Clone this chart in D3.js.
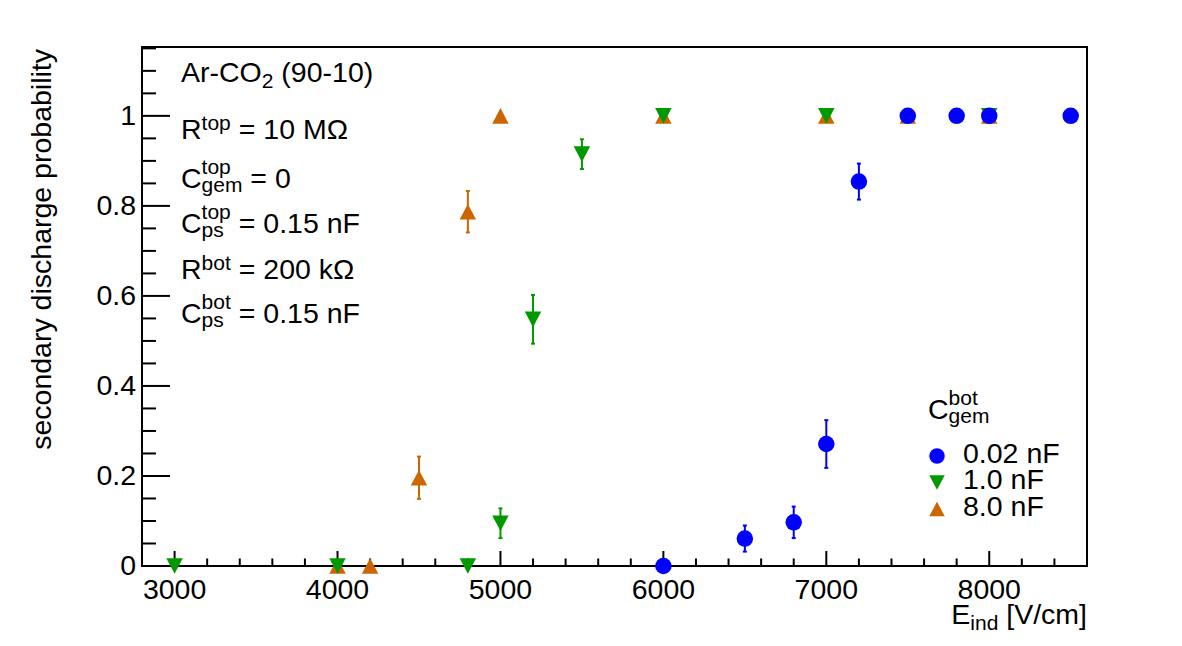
<!DOCTYPE html>
<html>
<head>
<meta charset="utf-8">
<script src="https://cdn.jsdelivr.net/npm/d3@7"></script>
<style>
    body { margin: 0; background: #fff; }
    svg text { font-family: "Liberation Sans", Arial, Helvetica, sans-serif; fill: #000; }
</style>
</head>
<body>
<svg id="chart" width="1182" height="646"></svg>
<script>
// C_gem^bot = 0.02 nF
const FIELD_002 = [6000, 6500, 6800, 7000, 7200, 7500, 7800, 8000, 8500];
const PROB_002 = [0, 0.061, 0.097, 0.271, 0.854, 1, 1, 1, 1];
const ERR_002 = [0, 0.029, 0.035, 0.053, 0.040, 0, 0, 0, 0];
// C_gem^bot = 1.0 nF
const FIELD_10 = [3000, 4000, 4800, 5000, 5200, 5500, 6000, 7000, 8000];
const PROB_10 = [0, 0, 0, 0.095, 0.548, 0.915, 1, 1, 1];
const ERR_10 = [0, 0, 0, 0.033, 0.054, 0.033, 0, 0, 0];
// C_gem^bot = 8.0 nF
const FIELD_80 = [4000, 4200, 4500, 4800, 5000, 6000, 7000, 7500, 8000];
const PROB_80 = [0, 0, 0.196, 0.787, 1, 1, 1, 1, 1];
const ERR_80 = [0, 0, 0.047, 0.046, 0, 0, 0, 0, 0];

const X_TICKS = [3000, 4000, 5000, 6000, 7000, 8000];
const Y_TICKS = [0, 0.2, 0.4, 0.6, 0.8, 1];
const SERIES_LABELS = ["0.02 nF", "1.0 nF", "8.0 nF"];

const W = 1182, H = 646;
const M = {left: 142, right: 95, top: 47, bottom: 80};
const FONT = 28.5;
const SUB = 21;

const svg = d3.select("#chart");

const x = d3.scaleLinear().domain([2800, 8600]).range([M.left, W - M.right]);
const y = d3.scaleLinear().domain([0, 1.153]).range([H - M.bottom, M.top]);

const tri = (w, h, up) => up
    ? `M0,${-h / 2}L${w / 2},${h / 2}L${-w / 2},${h / 2}Z`
    : `M0,${h / 2}L${w / 2},${-h / 2}L${-w / 2},${-h / 2}Z`;

const series = [
    {label: SERIES_LABELS[0], xs: FIELD_002, ys: PROB_002, es: ERR_002, color: "#0000ff",
        shape: (s) => d3.symbol(d3.symbolCircle, Math.PI * s * s / 4)()},
    {label: SERIES_LABELS[1], xs: FIELD_10, ys: PROB_10, es: ERR_10, color: "#009900",
        shape: (s) => tri(s, s * 0.95, false)},
    {label: SERIES_LABELS[2], xs: FIELD_80, ys: PROB_80, es: ERR_80, color: "#cc6600",
        shape: (s) => tri(s, s * 0.95, true)},
];

// ==================== Axes =====================
const xMinor = d3.range(2800, 8601, 200).filter(v => v % 1000 !== 0 && v > 2800 && v < 8600);
const yMinor = d3.range(1, 24).map(i => +(i * 0.05).toFixed(2)).filter((v, i) => (i + 1) % 4 !== 0);

function styleAxis(g) {
    g.select(".domain").remove();
    g.selectAll("line").attr("stroke", "#000").attr("stroke-width", 2);
    g.selectAll("text").style("font-size", `${FONT}px`).attr("fill", "#000");
}

svg.append("g")
    .attr("transform", `translate(0,${H - M.bottom})`)
    .call(d3.axisBottom(x).tickValues(xMinor).tickSize(-7.5).tickFormat("").offset(0))
    .call(styleAxis);
svg.append("g")
    .attr("transform", `translate(0,${H - M.bottom})`)
    .call(d3.axisBottom(x).tickValues(X_TICKS).tickSize(-15).tickPadding(13)
        .tickFormat(d3.format("d")).offset(0))
    .call(styleAxis);

svg.append("g")
    .attr("transform", `translate(${M.left},0)`)
    .call(d3.axisLeft(y).tickValues(yMinor).tickSize(-14).tickFormat("").offset(0))
    .call(styleAxis);
svg.append("g")
    .attr("transform", `translate(${M.left},0)`)
    .call(d3.axisLeft(y).tickValues(Y_TICKS).tickSize(-28).tickPadding(6)
        .tickFormat(d3.format("~g")).offset(0))
    .call(styleAxis);

svg.append("rect")
    .attr("x", M.left).attr("y", M.top)
    .attr("width", W - M.left - M.right).attr("height", H - M.top - M.bottom)
    .attr("fill", "none").attr("stroke", "#000").attr("stroke-width", 2);

// axis titles
svg.append("text")
    .attr("transform", `translate(51,${M.top + 2}) rotate(-90)`)
    .attr("text-anchor", "end")
    .style("font-size", `${FONT}px`)
    .text("secondary discharge probability");

const xt = svg.append("text")
    .attr("x", W - M.right).attr("y", 624)
    .attr("text-anchor", "end")
    .style("font-size", `${FONT}px`);
xt.append("tspan").text("E");
xt.append("tspan").attr("dy", 6).style("font-size", `${SUB}px`).text("ind");
xt.append("tspan").attr("dy", -6).text(" [V/cm]");

// ==================== Data =====================
// drawn 8.0 nF first so that 1.0 nF and 0.02 nF sit on top
[...series].reverse().forEach(s => {
    const pts = s.xs.map((v, i) => ({x: v, y: s.ys[i], e: s.es[i]}));
    const g = svg.append("g");
    const withErr = pts.filter(d => d.e > 0);
    g.selectAll(".err").data(withErr).enter().append("line")
        .attr("x1", d => x(d.x)).attr("x2", d => x(d.x))
        .attr("y1", d => y(d.y - d.e)).attr("y2", d => y(d.y + d.e))
        .attr("stroke", s.color).attr("stroke-width", 2);
    [-1, 1].forEach(sign => {
        g.selectAll(".cap" + sign).data(withErr).enter().append("line")
            .attr("x1", d => x(d.x) - 2).attr("x2", d => x(d.x) + 2)
            .attr("y1", d => y(d.y + sign * d.e)).attr("y2", d => y(d.y + sign * d.e))
            .attr("stroke", s.color).attr("stroke-width", 2);
    });
    g.selectAll(".pt").data(pts).enter().append("path")
        .attr("transform", d => `translate(${x(d.x)},${y(d.y)})`)
        .attr("d", s.shape(16.5))
        .attr("fill", s.color);
});

// ==================== Labels with sub/superscripts =====================
// one <text> per line, sub/superscripts as positioned tspans
function rich(parent, x0, y0, parts) {
    const t = parent.append("text").attr("x", x0).attr("y", y0)
        .attr("xml:space", "preserve").style("font-size", `${FONT}px`);
    let cx = x0;
    parts.forEach(p => {
        const b = t.append("tspan").attr("x", cx).attr("y", y0).text(p.b);
        cx += b.node().getComputedTextLength();
        let w = 0;
        const both = p.sup && p.sub;
        if (p.sup) {
            const s = t.append("tspan").attr("x", cx).attr("y", y0 - (both ? 14 : 9))
                .style("font-size", `${SUB}px`).text(p.sup);
            w = Math.max(w, s.node().getComputedTextLength());
        }
        if (p.sub) {
            const s = t.append("tspan").attr("x", cx).attr("y", y0 + (both ? 4 : 6))
                .style("font-size", `${SUB}px`).text(p.sub);
            w = Math.max(w, s.node().getComputedTextLength());
        }
        cx += w;
    });
    return t;
}

const NOTE_X = 181;
rich(svg, NOTE_X, 82, [{b: "Ar-CO", sub: "2"}, {b: " (90-10)"}]);
rich(svg, NOTE_X, 139, [{b: "R", sup: "top"}, {b: " = 10 M\u03A9"}]);
rich(svg, NOTE_X, 188, [{b: "C", sup: "top", sub: "gem"}, {b: " = 0"}]);
rich(svg, NOTE_X, 233, [{b: "C", sup: "top", sub: "ps"}, {b: " = 0.15 nF"}]);
rich(svg, NOTE_X, 279, [{b: "R", sup: "bot"}, {b: " = 200 k\u03A9"}]);
rich(svg, NOTE_X, 323, [{b: "C", sup: "bot", sub: "ps"}, {b: " = 0.15 nF"}]);

// ==================== Legend =====================
rich(svg, 928, 419, [{b: "C", sup: "bot", sub: "gem"}]);
const legend = svg.append("g");
series.forEach((s, i) => {
    const ly = 456 + i * 26.5;
    legend.append("path")
        .attr("transform", `translate(937,${ly})`)
        .attr("d", s.shape(15.5))
        .attr("fill", s.color);
    legend.append("text")
        .attr("x", 963).attr("y", ly + 6.5)
        .style("font-size", `${FONT}px`)
        .text(s.label);
});
</script>
</body>
</html>
